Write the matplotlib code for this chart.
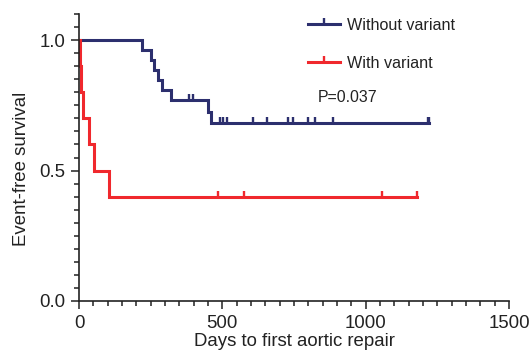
"""Kaplan-Meier style event-free survival, with vs without variant."""
import matplotlib

matplotlib.use("Agg")
import matplotlib.pyplot as plt
import numpy as np
from matplotlib.lines import Line2D
from matplotlib.ticker import MultipleLocator

# Without variant: step times (days) and survival after each step
blue_times = [0, 221, 251, 263, 277, 291, 321, 449, 459, 1222]
blue_surv = [1.0, 0.964, 0.925, 0.885, 0.847, 0.808, 0.770, 0.725, 0.683, 0.683]
blue_censored = [385, 397, 492, 504, 516, 608, 655, 730, 745, 800, 822, 887, 1218, 1222]

# With variant
red_times = [0, 3, 6, 15, 35, 53, 105, 1178]
red_surv = [1.0, 0.9, 0.8, 0.7, 0.6, 0.5, 0.4, 0.4]
red_censored = [486, 577, 1058, 1178]

labels = ["Without variant", "With variant"]
p_text = "P=0.037"

BLUE = "#2c2f6e"
RED = "#f0282d"
INK = "#222222"
LW = 2.2

plt.rcParams["font.family"] = ["Liberation Sans", "DejaVu Sans"]
plt.rcParams["font.size"] = 13.4


def surv_at(times, surv, t):
    idx = np.searchsorted(times, t, side="right") - 1
    return np.asarray(surv)[idx]


fig = plt.figure(figsize=(5.32, 3.56), dpi=100)
ax = fig.add_axes([0.1485, 0.1545, 0.8083, 0.806])

for times, surv, cens, col in [
    (blue_times, blue_surv, blue_censored, BLUE),
    (red_times, red_surv, red_censored, RED),
]:
    ax.step(times, surv, where="post", color=col, lw=LW, solid_joinstyle="miter")
    ax.plot(cens, surv_at(times, surv, cens), ls="none", marker=2,
            ms=4.5, mew=1.7, color=col)

ax.set_xlim(0, 1500)
ax.set_ylim(0, 1.1)
ax.set_xticks([0, 500, 1000, 1500])
ax.set_yticks([0.0, 0.5, 1.0])
ax.set_yticklabels(["0.0", "0.5", "1.0"])
ax.xaxis.set_minor_locator(MultipleLocator(50))
ax.yaxis.set_minor_locator(MultipleLocator(0.05))
ax.tick_params(which="major", length=6, width=1.1, color=INK, labelcolor=INK, pad=4)
ax.tick_params(which="minor", length=3.5, width=1.1, color=INK)
for s in ["top", "right"]:
    ax.spines[s].set_visible(False)
for s in ["left", "bottom"]:
    ax.spines[s].set_linewidth(1.2)
    ax.spines[s].set_color(INK)

ax.set_xlabel("Days to first aortic repair", color=INK, labelpad=1)
ax.set_ylabel("Event-free survival", color=INK)
ax.yaxis.set_label_coords(-0.115, 0.46)

ax.text(834, 0.78, p_text, ha="left", va="center", color=INK, fontsize=11.4)

handles = [
    Line2D([], [], color=BLUE, lw=LW, marker=2, ms=4.5, mew=1.7),
    Line2D([], [], color=RED, lw=LW, marker=2, ms=4.5, mew=1.7),
]
fig.legend(handles, labels, loc="upper left", frameon=False,
           bbox_to_anchor=(308 / 532, 1 - 17.5 / 356), borderpad=0,
           borderaxespad=0, fontsize=11.6,
           handlelength=2.0, handletextpad=0.4, labelspacing=1.45,
           labelcolor=INK)

fig.savefig("out.png", dpi=100)
